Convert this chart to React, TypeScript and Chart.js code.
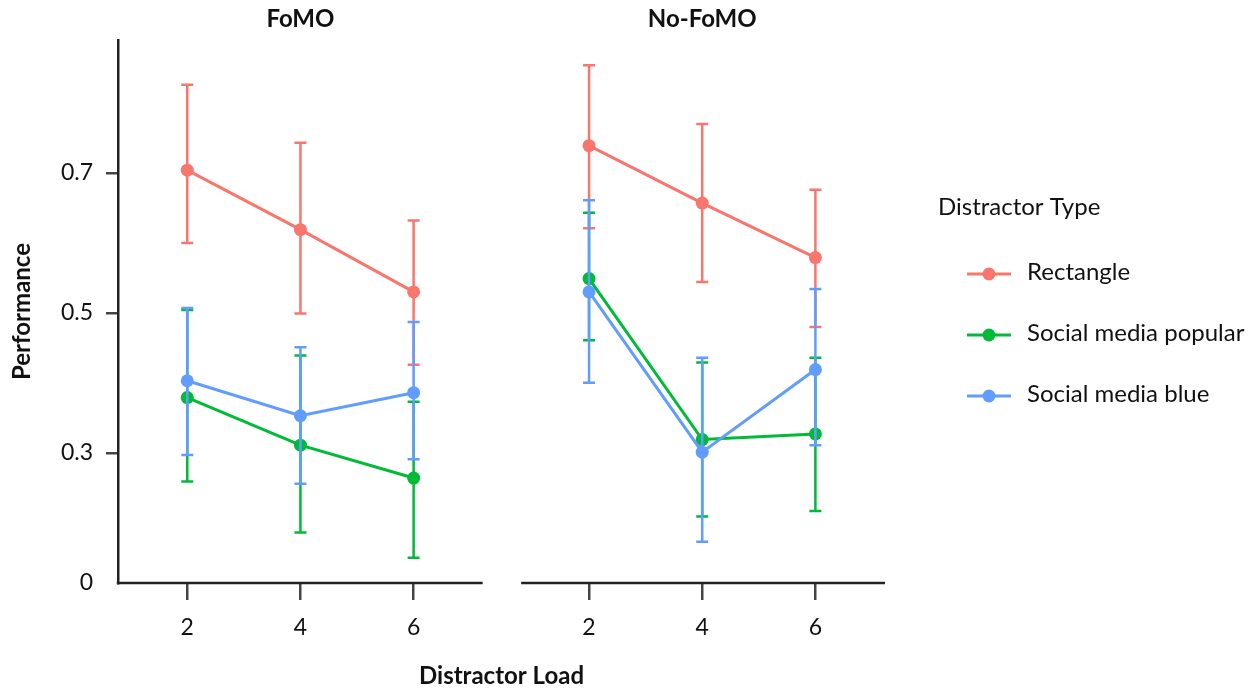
import React, { useEffect, useRef } from 'react';
import { Chart, registerables } from 'chart.js';

Chart.register(...registerables);

// ---------- data ----------
const loads = [2, 4, 6];
const panelNames = ['FoMO', 'No-FoMO'];
const seriesNames = ['Rectangle', 'Social media popular', 'Social media blue'];
const seriesColors = ['#F8766D', '#00BA38', '#619CFF'];

// FoMO panel
const rectFomo = [0.704, 0.619, 0.53];
const rectFomoLo = [0.6, 0.499, 0.426];
const rectFomoHi = [0.826, 0.743, 0.632];
const popFomo = [0.379, 0.311, 0.264];
const popFomoLo = [0.259, 0.186, 0.15];
const popFomoHi = [0.504, 0.439, 0.373];
const blueFomo = [0.403, 0.353, 0.386];
const blueFomoLo = [0.297, 0.256, 0.291];
const blueFomoHi = [0.507, 0.451, 0.487];

// No-FoMO panel
const rectNoFomo = [0.739, 0.657, 0.579];
const rectNoFomoLo = [0.621, 0.544, 0.48];
const rectNoFomoHi = [0.854, 0.77, 0.676];
const popNoFomo = [0.549, 0.319, 0.327];
const popNoFomoLo = [0.461, 0.209, 0.217];
const popNoFomoHi = [0.643, 0.429, 0.436];
const blueNoFomo = [0.53, 0.301, 0.419];
const blueNoFomoLo = [0.4, 0.173, 0.311];
const blueNoFomoHi = [0.661, 0.436, 0.534];

const yTickValues = [0.114, 0.3, 0.5, 0.7];
const yTickLabels = ['0', '0.3', '0.5', '0.7'];
const xTickLabels = ['2', '4', '6'];

// ---------- scale settings ----------
const Y_MIN = 0.114;
const Y_MAX = 0.89;
const PANEL_SHIFT = 7.1; // x shift of the second facet on the shared axis
const X_MIN = 0.776;
const X_MAX = 14.33;
const LEFT_AXIS_END = 7.22;
const RIGHT_AXIS_START = 7.9;

const FONT = 'Lato, "Open Sans", sans-serif';
const INK = '#111111';

const values = [
  [rectFomo, popFomo, blueFomo],
  [rectNoFomo, popNoFomo, blueNoFomo],
];
const lows = [
  [rectFomoLo, popFomoLo, blueFomoLo],
  [rectNoFomoLo, popNoFomoLo, blueNoFomoLo],
];
const highs = [
  [rectFomoHi, popFomoHi, blueFomoHi],
  [rectNoFomoHi, popNoFomoHi, blueNoFomoHi],
];

function buildDatasets() {
  const ds: any[] = [];
  panelNames.forEach((_, p) => {
    seriesNames.forEach((name, s) => {
      ds.push({
        label: name,
        data: loads.map((l, i) => ({ x: l + p * PANEL_SHIFT, y: values[p][s][i] })),
        errLo: lows[p][s],
        errHi: highs[p][s],
        borderColor: seriesColors[s],
        backgroundColor: seriesColors[s],
        pointBackgroundColor: seriesColors[s],
        pointBorderWidth: 0,
        pointRadius: 6.5,
        borderWidth: 3,
        tension: 0,
        order: 2 - s,
      });
    });
  });
  return ds;
}

const errorBarPlugin = {
  id: 'errorBars',
  beforeDatasetDraw(chart: any, args: any) {
    const ds = chart.data.datasets[args.index];
    const xs = chart.scales.x;
    const ys = chart.scales.y;
    const ctx = chart.ctx;
    ctx.save();
    ctx.strokeStyle = ds.borderColor;
    ctx.lineWidth = 2.5;
    ctx.lineCap = 'butt';
    ds.data.forEach((pt: any, i: number) => {
      const x = xs.getPixelForValue(pt.x);
      const y1 = ys.getPixelForValue(ds.errLo[i]);
      const y2 = ys.getPixelForValue(ds.errHi[i]);
      ctx.beginPath();
      ctx.moveTo(x, y1);
      ctx.lineTo(x, y2);
      ctx.moveTo(x - 6, y1);
      ctx.lineTo(x + 6, y1);
      ctx.moveTo(x - 6, y2);
      ctx.lineTo(x + 6, y2);
      ctx.stroke();
    });
    ctx.restore();
  },
};

const decorPlugin = {
  id: 'decor',
  beforeDatasetsDraw(chart: any) {
    const ctx = chart.ctx;
    const xs = chart.scales.x;
    const area = chart.chartArea;
    ctx.save();
    ctx.strokeStyle = '#222222';
    ctx.lineWidth = 2.5;
    ctx.beginPath();
    ctx.moveTo(area.left - 1.25, area.bottom);
    ctx.lineTo(xs.getPixelForValue(LEFT_AXIS_END), area.bottom);
    ctx.moveTo(xs.getPixelForValue(RIGHT_AXIS_START), area.bottom);
    ctx.lineTo(area.right, area.bottom);
    ctx.stroke();
    ctx.restore();
  },
  afterDraw(chart: any) {
    const ctx = chart.ctx;
    const xs = chart.scales.x;
    ctx.save();
    // facet titles
    ctx.fillStyle = INK;
    ctx.textAlign = 'center';
    ctx.textBaseline = 'middle';
    ctx.font = `bold 24px ${FONT}`;
    panelNames.forEach((name, p) => {
      const cx = xs.getPixelForValue(4 + p * PANEL_SHIFT);
      ctx.fillText(name, cx, 19);
    });
    // legend
    ctx.textAlign = 'left';
    ctx.font = `24px ${FONT}`;
    ctx.fillText('Distractor Type', 938, 207);
    seriesNames.forEach((name, s) => {
      const y = 274 + s * 61;
      ctx.strokeStyle = seriesColors[s];
      ctx.fillStyle = seriesColors[s];
      ctx.lineWidth = 3;
      ctx.beginPath();
      ctx.moveTo(967, y);
      ctx.lineTo(1011, y);
      ctx.stroke();
      ctx.beginPath();
      ctx.arc(989, y, 6.5, 0, Math.PI * 2);
      ctx.fill();
      ctx.fillStyle = INK;
      ctx.fillText(name, 1027, y - 2);
    });
    ctx.restore();
  },
};

export default function App() {
  const ref = useRef<HTMLCanvasElement | null>(null);

  useEffect(() => {
    if (!ref.current) return;
    const chart = new Chart(ref.current, {
      type: 'line',
      data: { datasets: buildDatasets() },
      options: {
        animation: false,
        responsive: false,
        maintainAspectRatio: false,
        layout: { padding: { left: 0, right: 367, top: 40, bottom: 0 } },
        plugins: {
          legend: { display: false },
          tooltip: { enabled: false },
          title: { display: false },
        },
        scales: {
          x: {
            type: 'linear',
            min: X_MIN,
            max: X_MAX,
            afterBuildTicks: (scale: any) => {
              const ticks: any[] = [];
              panelNames.forEach((_, p) => loads.forEach((l) => ticks.push({ value: l + p * PANEL_SHIFT })));
              scale.ticks = ticks;
            },
            afterFit: (scale: any) => {
              scale.height = 108;
            },
            border: { display: false },
            grid: {
              drawOnChartArea: false,
              drawTicks: true,
              tickLength: 17,
              tickColor: '#444444',
              tickWidth: 2.5,
              lineWidth: 2.5,
              color: '#444444',
            },
            ticks: {
              autoSkip: false,
              maxRotation: 0,
              padding: 14,
              color: INK,
              font: { family: FONT, size: 23 },
              callback: (_v: any, i: number) => xTickLabels[i % xTickLabels.length],
            },
            title: {
              display: true,
              text: 'Distractor Load',
              color: INK,
              font: { family: FONT, size: 24, weight: 'bold' },
              padding: { top: 0, bottom: 0 },
            },
          },
          y: {
            type: 'linear',
            min: Y_MIN,
            max: Y_MAX,
            afterBuildTicks: (scale: any) => {
              scale.ticks = yTickValues.map((v) => ({ value: v }));
            },
            afterFit: (scale: any) => {
              scale.width = 118;
            },
            border: { display: true, color: '#222222', width: 2.5 },
            grid: {
              drawOnChartArea: false,
              drawTicks: true,
              tickLength: 12,
              tickWidth: 2.5,
              lineWidth: 2.5,
              tickColor: (c: any) => (c.index === 0 ? 'rgba(0,0,0,0)' : '#444444'),
              color: (c: any) => (c.index === 0 ? 'rgba(0,0,0,0)' : '#444444'),
            },
            ticks: {
              autoSkip: false,
              padding: 13,
              color: INK,
              font: { family: FONT, size: 23 },
              callback: (_v: any, i: number) => yTickLabels[i],
            },
            title: {
              display: true,
              text: 'Performance',
              color: INK,
              font: { family: FONT, size: 24, weight: 'bold' },
              padding: { top: 8, bottom: 0 },
            },
          },
        },
      } as any,
      plugins: [errorBarPlugin, decorPlugin],
    });
    return () => chart.destroy();
  }, []);

  return (
    <div style={{ position: 'fixed', left: 0, top: 0, width: 1252, height: 691, background: '#ffffff' }}>
      <canvas ref={ref} width={1252} height={691} style={{ display: 'block', width: 1252, height: 691 }} />
    </div>
  );
}
